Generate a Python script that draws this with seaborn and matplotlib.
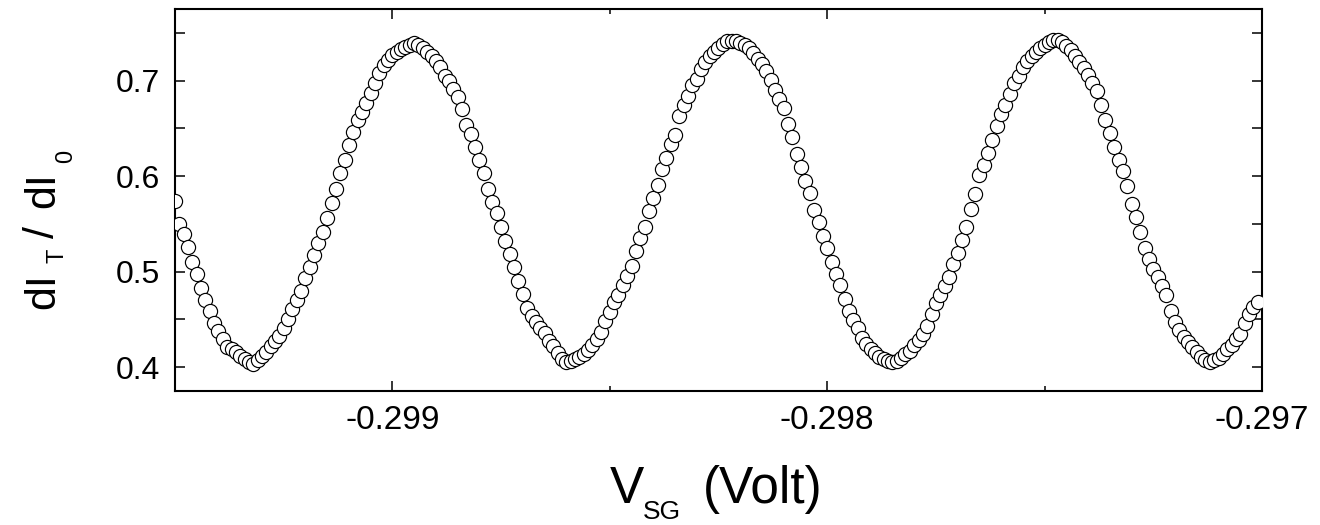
import matplotlib
matplotlib.use("Agg")
import matplotlib.pyplot as plt
import seaborn as sns
import pandas as pd
from matplotlib.ticker import MultipleLocator, FormatStrFormatter

# Side-gate voltage (V) — uniform sweep
vsg = [
    -0.29950, -0.29949, -0.29948, -0.29947, -0.29946, -0.29945, -0.29944, -0.29943, -0.29942, -0.29941,
    -0.29940, -0.29939, -0.29938, -0.29937, -0.29936, -0.29935, -0.29934, -0.29933, -0.29932, -0.29931,
    -0.29930, -0.29929, -0.29928, -0.29927, -0.29926, -0.29925, -0.29924, -0.29923, -0.29922, -0.29921,
    -0.29920, -0.29919, -0.29918, -0.29917, -0.29916, -0.29915, -0.29914, -0.29913, -0.29912, -0.29911,
    -0.29910, -0.29909, -0.29908, -0.29907, -0.29906, -0.29905, -0.29904, -0.29903, -0.29902, -0.29901,
    -0.29900, -0.29899, -0.29898, -0.29897, -0.29896, -0.29895, -0.29894, -0.29893, -0.29892, -0.29891,
    -0.29890, -0.29889, -0.29888, -0.29887, -0.29886, -0.29885, -0.29884, -0.29883, -0.29882, -0.29881,
    -0.29880, -0.29879, -0.29878, -0.29877, -0.29876, -0.29875, -0.29874, -0.29873, -0.29872, -0.29871,
    -0.29870, -0.29869, -0.29868, -0.29867, -0.29866, -0.29865, -0.29864, -0.29863, -0.29862, -0.29861,
    -0.29860, -0.29859, -0.29858, -0.29857, -0.29856, -0.29855, -0.29854, -0.29853, -0.29852, -0.29851,
    -0.29850, -0.29849, -0.29848, -0.29847, -0.29846, -0.29845, -0.29844, -0.29843, -0.29842, -0.29841,
    -0.29840, -0.29839, -0.29838, -0.29837, -0.29836, -0.29835, -0.29834, -0.29833, -0.29832, -0.29831,
    -0.29830, -0.29829, -0.29828, -0.29827, -0.29826, -0.29825, -0.29824, -0.29823, -0.29822, -0.29821,
    -0.29820, -0.29819, -0.29818, -0.29817, -0.29816, -0.29815, -0.29814, -0.29813, -0.29812, -0.29811,
    -0.29810, -0.29809, -0.29808, -0.29807, -0.29806, -0.29805, -0.29804, -0.29803, -0.29802, -0.29801,
    -0.29800, -0.29799, -0.29798, -0.29797, -0.29796, -0.29795, -0.29794, -0.29793, -0.29792, -0.29791,
    -0.29790, -0.29789, -0.29788, -0.29787, -0.29786, -0.29785, -0.29784, -0.29783, -0.29782, -0.29781,
    -0.29780, -0.29779, -0.29778, -0.29777, -0.29776, -0.29775, -0.29774, -0.29773, -0.29772, -0.29771,
    -0.29770, -0.29769, -0.29768, -0.29767, -0.29766, -0.29765, -0.29764, -0.29763, -0.29762, -0.29761,
    -0.29760, -0.29759, -0.29758, -0.29757, -0.29756, -0.29755, -0.29754, -0.29753, -0.29752, -0.29751,
    -0.29750, -0.29749, -0.29748, -0.29747, -0.29746, -0.29745, -0.29744, -0.29743, -0.29742, -0.29741,
    -0.29740, -0.29739, -0.29738, -0.29737, -0.29736, -0.29735, -0.29734, -0.29733, -0.29732, -0.29731,
    -0.29730, -0.29729, -0.29728, -0.29727, -0.29726, -0.29725, -0.29724, -0.29723, -0.29722, -0.29721,
    -0.29720, -0.29719, -0.29718, -0.29717, -0.29716, -0.29715, -0.29714, -0.29713, -0.29712, -0.29711,
    -0.29710, -0.29709, -0.29708, -0.29707, -0.29706, -0.29705, -0.29704, -0.29703, -0.29702, -0.29701,
]

# dI_T / dI_0
ratio = [
    0.574, 0.550, 0.539, 0.526, 0.510, 0.497, 0.483, 0.470, 0.459, 0.446,
    0.438, 0.429, 0.421, 0.419, 0.416, 0.412, 0.409, 0.405, 0.403, 0.407,
    0.412, 0.416, 0.422, 0.427, 0.433, 0.441, 0.450, 0.461, 0.470, 0.480,
    0.493, 0.505, 0.517, 0.530, 0.542, 0.556, 0.572, 0.586, 0.603, 0.617,
    0.633, 0.646, 0.659, 0.667, 0.677, 0.687, 0.697, 0.708, 0.716, 0.722,
    0.727, 0.730, 0.733, 0.735, 0.737, 0.739, 0.737, 0.734, 0.730, 0.726,
    0.721, 0.714, 0.705, 0.700, 0.691, 0.683, 0.670, 0.654, 0.644, 0.630,
    0.617, 0.603, 0.586, 0.573, 0.561, 0.547, 0.532, 0.518, 0.505, 0.490,
    0.477, 0.462, 0.454, 0.447, 0.441, 0.436, 0.427, 0.422, 0.415, 0.408,
    0.405, 0.406, 0.409, 0.411, 0.414, 0.418, 0.423, 0.429, 0.437, 0.448,
    0.458, 0.468, 0.476, 0.486, 0.495, 0.506, 0.522, 0.535, 0.547, 0.564,
    0.577, 0.591, 0.607, 0.619, 0.634, 0.643, 0.663, 0.674, 0.684, 0.695,
    0.702, 0.712, 0.719, 0.726, 0.730, 0.734, 0.738, 0.741, 0.742, 0.741,
    0.739, 0.737, 0.734, 0.729, 0.723, 0.717, 0.710, 0.701, 0.690, 0.681,
    0.671, 0.655, 0.641, 0.623, 0.610, 0.595, 0.582, 0.565, 0.552, 0.537,
    0.525, 0.510, 0.498, 0.486, 0.471, 0.459, 0.449, 0.441, 0.431, 0.424,
    0.419, 0.415, 0.411, 0.408, 0.406, 0.405, 0.406, 0.410, 0.414, 0.417,
    0.423, 0.428, 0.435, 0.443, 0.456, 0.467, 0.476, 0.485, 0.494, 0.508,
    0.520, 0.533, 0.547, 0.566, 0.581, 0.601, 0.612, 0.624, 0.638, 0.652,
    0.665, 0.675, 0.686, 0.697, 0.705, 0.714, 0.721, 0.726, 0.730, 0.734,
    0.737, 0.740, 0.743, 0.743, 0.740, 0.736, 0.732, 0.726, 0.720, 0.713,
    0.706, 0.698, 0.689, 0.675, 0.659, 0.645, 0.631, 0.617, 0.605, 0.590,
    0.571, 0.557, 0.542, 0.525, 0.513, 0.503, 0.494, 0.485, 0.476, 0.459,
    0.447, 0.439, 0.432, 0.426, 0.421, 0.416, 0.411, 0.407, 0.405, 0.407,
    0.410, 0.414, 0.419, 0.423, 0.429, 0.435, 0.446, 0.456, 0.463, 0.468,
]

sns.set_style("ticks")
plt.rcParams["font.family"] = ["Liberation Sans", "DejaVu Sans"]
for k in ["text.color", "axes.labelcolor", "xtick.color", "ytick.color", "axes.edgecolor"]:
    plt.rcParams[k] = "black"

W, H = 1320, 525
fig = plt.figure(figsize=(W / 100, H / 100), dpi=100)
ax = fig.add_axes([175 / W, 1 - 391 / H, (1262 - 175) / W, (391 - 9) / H])

df = pd.DataFrame({"vsg": vsg, "ratio": ratio})
sns.scatterplot(data=df, x="vsg", y="ratio", ax=ax, marker="o", s=104,
                color="white", edgecolor="black", linewidth=0.85,
                legend=False, zorder=3)

ax.set_xlim(-0.2995, -0.297)
ax.set_ylim(0.375, 0.775)
ax.xaxis.set_major_locator(MultipleLocator(0.001))
ax.xaxis.set_minor_locator(MultipleLocator(0.0005))
ax.xaxis.set_major_formatter(FormatStrFormatter("%.3f"))
ax.yaxis.set_major_locator(MultipleLocator(0.1))
ax.yaxis.set_minor_locator(MultipleLocator(0.05))
ax.yaxis.set_major_formatter(FormatStrFormatter("%.1f"))

ax.tick_params(axis="both", which="both", direction="in", top=True, right=True,
               width=1.1, color="black")
ax.tick_params(axis="both", which="major", length=7.2)
ax.tick_params(axis="x", which="minor", length=3.6)
ax.tick_params(axis="y", which="minor", length=7.2)
ax.tick_params(axis="x", which="major", labelsize=24, pad=10)
ax.tick_params(axis="y", which="major", labelsize=23, pad=11)
for s in ax.spines.values():
    s.set_linewidth(1.5)
    s.set_color("black")

ax.set_xlabel("")
ax.set_ylabel("")

def ftxt(px, py, s, size, rot=0):
    fig.text(px / W, 1 - py / H, s, fontsize=size, rotation=rot,
             rotation_mode="anchor", ha="left", va="baseline")

# x-axis label: V_SG (Volt)
ftxt(610, 503, "V", 37)
ftxt(643, 519, "SG", 19)
ftxt(703, 503, "(Volt)", 37)

# y-axis label: dI_T / dI_0 (rotated, reading upward)
ftxt(54, 309, "dI", 31, 90)
ftxt(64, 263, "T", 17, 90)
ftxt(54, 238, "/", 31, 90)
ftxt(54, 208, "dI", 31, 90)
ftxt(72, 163, "0", 17, 90)

fig.savefig("out.png", dpi=100)
